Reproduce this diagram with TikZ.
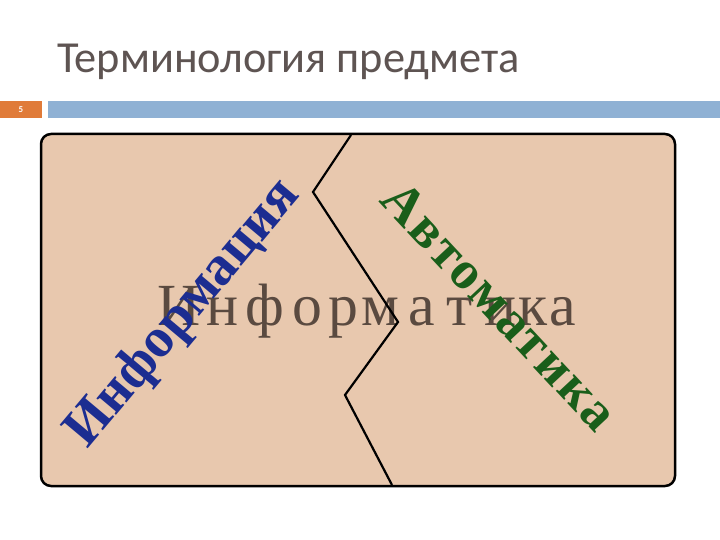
\documentclass[tikz,border=0pt]{standalone}
\usepackage{fontspec}
\setmainfont{Liberation Serif}
\newfontfamily\titlefont{Carlito}
\usetikzlibrary{positioning}

\definecolor{titlegray}{HTML}{5E5452}
\definecolor{slideorange}{HTML}{E07B39}
\definecolor{barblue}{HTML}{8FB1D4}
\definecolor{tanfill}{HTML}{E8C8AE}
\definecolor{wordgray}{HTML}{5A4A40}
\definecolor{wordblue}{HTML}{1C2D91}
\definecolor{wordgreen}{HTML}{1A5E1A}

\tikzset{
  bigletter/.style={anchor=base, inner sep=0pt, text=wordgray,
    font=\fontsize{60}{62}\selectfont},
  slantword/.style={inner sep=0pt, font=\bfseries\fontsize{56}{58}\selectfont}
}

\begin{document}
\begin{tikzpicture}[x=1bp,y=-1bp]
    \useasboundingbox (0,0) rectangle (720,540);
    \fill[white] (0,0) rectangle (720,540);
    \node[anchor=base west, inner sep=0pt, text=titlegray,
      font=\titlefont\fontsize{44.5}{50}\selectfont] (title) at (57,73) {Терминология предмета};

    \fill[slideorange] (0,101) rectangle (42,118);
    \node[text=white, font=\titlefont\bfseries\fontsize{9}{10}\selectfont] (num) at (21,110) {5};
    \fill[barblue] (48,101) rectangle (720,118);

    \draw[line width=2.5bp, rounded corners=10bp, fill=tanfill] (41,134) rectangle (675,486);

    % word across the middle
    \foreach \ch/\x in {И/179,н/222,ф/265,о/307,р/343,м/380,а/422,т/460,и/500,к/533,а/563}
      \node[bigletter] (l\x) at (\x,325) {\ch};

    \draw[line width=2.2bp] (351,135) -- (313,192) -- (398,322) -- (345,395) -- (392,485);

    \node[slantword, text=wordblue, rotate=50] (info) at (184,314) {Информация};
    \node[slantword, text=wordgreen, rotate=-47,
      font=\bfseries\fontsize{54}{56}\selectfont\addfontfeature{LetterSpace=5}] (auto) at (500,306) {Автоматика};
\end{tikzpicture}
\end{document}
